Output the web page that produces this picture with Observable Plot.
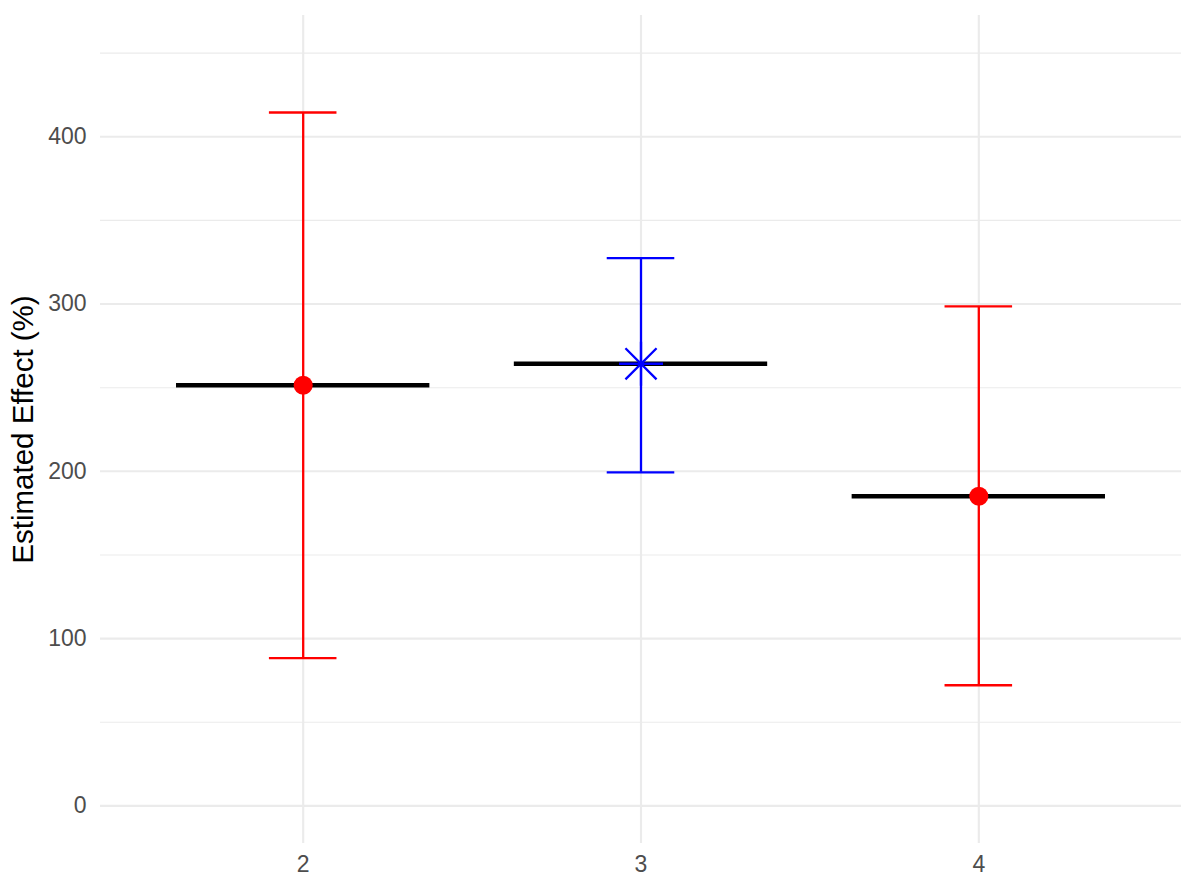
<!DOCTYPE html>
<html>
<head>
<meta charset="utf-8">
<script src="https://cdn.jsdelivr.net/npm/d3@7"></script>
<script src="https://cdn.jsdelivr.net/npm/@observablehq/plot@0.6"></script>
<style>
  html, body { margin: 0; padding: 0; background: #ffffff; }
  #chart svg { display: block; }
</style>
</head>
<body>
<div id="chart"></div>
<script>
// Data
const groups = [2, 3, 4];
const estimates = [251.5, 264.3, 185.1];
const lowerCI = [88.3, 199.4, 72.1];
const upperCI = [414.5, 327.4, 298.6];
const pointColors = ["red", "blue", "red"];
const pointShapes = ["circle", "asterisk8", "circle"];

const yMajorTicks = [0, 100, 200, 300, 400];
const yMinorTicks = [50, 150, 250, 350, 450];
const xTicks = [2, 3, 4];
const yTitle = "Estimated Effect (%)";

const rows = groups.map((g, i) => ({
  group: g,
  est: estimates[i],
  lo: lowerCI[i],
  hi: upperCI[i],
  color: pointColors[i],
  shape: pointShapes[i]
}));

// ggplot-style asterisk (shape 8): plus + times
const asterisk8 = {
  draw(context, size) {
    const r = Math.sqrt(size / Math.PI);
    const d = r / Math.SQRT2;
    context.moveTo(-r, 0); context.lineTo(r, 0);
    context.moveTo(0, -r); context.lineTo(0, r);
    context.moveTo(-d, -d); context.lineTo(d, d);
    context.moveTo(-d, d); context.lineTo(d, -d);
  }
};

const crossHalf = 0.375;
const capHalf = 0.1;
const grid = "#EBEBEB";
const font = "'Liberation Sans', Arial, Helvetica, sans-serif";

const chart = Plot.plot({
  width: 1196,
  height: 882,
  marginLeft: 100,
  marginRight: 15,
  marginTop: 15,
  marginBottom: 39,
  style: { fontFamily: font, background: "#ffffff" },
  x: { domain: [1.4, 4.6], axis: null },
  y: { domain: [-22.5, 472.5], axis: null },
  color: { type: "identity" },
  marks: [
    Plot.ruleY(yMinorTicks, { stroke: grid, strokeWidth: 1.1 }),
    Plot.ruleY(yMajorTicks, { stroke: grid, strokeWidth: 2.1 }),
    Plot.ruleX(xTicks, { stroke: grid, strokeWidth: 2.1 }),
    Plot.axisY({ ticks: yMajorTicks, tickSize: 0, tickPadding: 14, fontSize: 23, color: "#4D4D4D", label: null, tickFormat: d3.format("d") }),
    Plot.axisX({ ticks: xTicks, tickSize: 0, tickPadding: 12, fontSize: 23, color: "#4D4D4D", label: null, tickFormat: d3.format("d") }),
    Plot.text([yTitle], { frameAnchor: "left", textAnchor: "middle", rotate: -90, dx: -77, fontSize: 29.5, fill: "black", text: d => d }),
    Plot.ruleY(rows, { y: "est", x1: d => d.group - crossHalf, x2: d => d.group + crossHalf, stroke: "black", strokeWidth: 4.5 }),
    Plot.ruleX(rows, { x: "group", y1: "lo", y2: "hi", stroke: "color", strokeWidth: 2.3 }),
    Plot.ruleY(rows, { y: "lo", x1: d => d.group - capHalf, x2: d => d.group + capHalf, stroke: "color", strokeWidth: 2.3 }),
    Plot.ruleY(rows, { y: "hi", x1: d => d.group - capHalf, x2: d => d.group + capHalf, stroke: "color", strokeWidth: 2.3 }),
    Plot.dot(rows.filter(d => d.shape === "circle"), { x: "group", y: "est", r: 9.5, fill: "color", stroke: "none" }),
    Plot.dot(rows.filter(d => d.shape === "asterisk8"), { x: "group", y: "est", r: 22, symbol: asterisk8, fill: "none", stroke: "color", strokeWidth: 2.3 })
  ]
});

document.getElementById("chart").appendChild(chart);
</script>
</body>
</html>
